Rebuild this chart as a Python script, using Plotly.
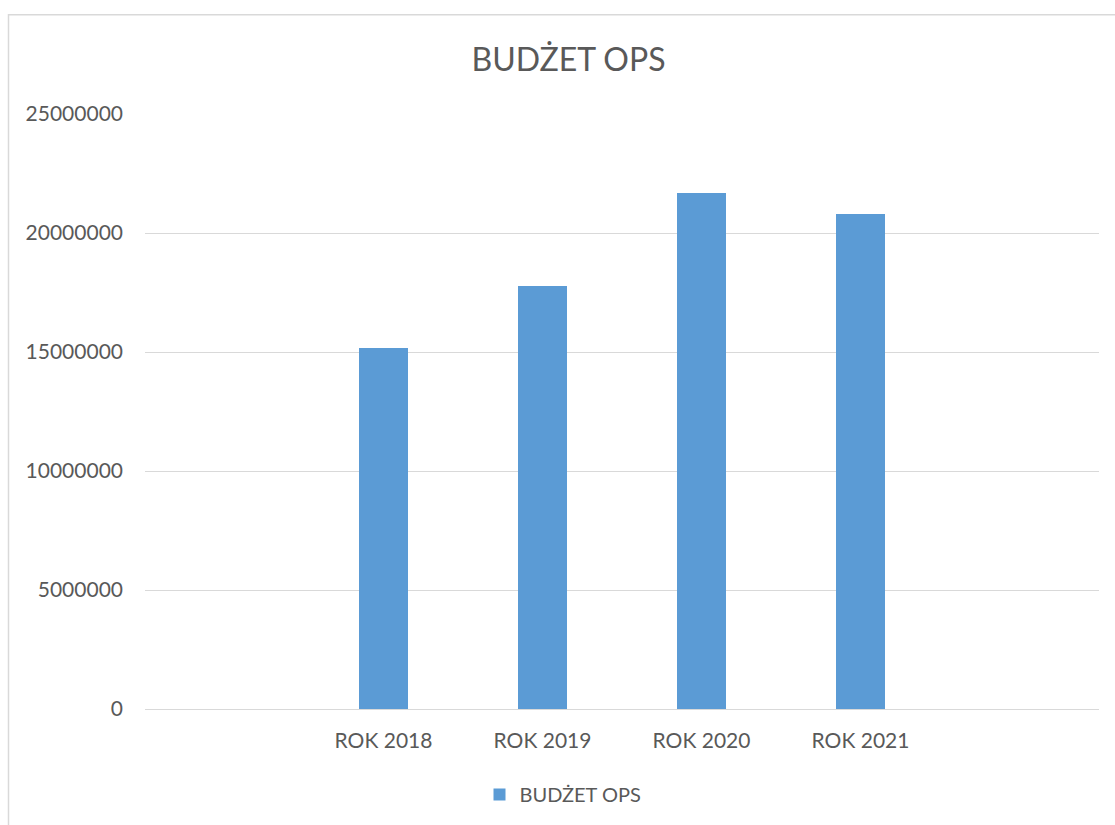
import plotly.graph_objects as go

# Budget of the social welfare centre (OPS) per year
categories = ["ROK 2018", "ROK 2019", "ROK 2020", "ROK 2021"]
budget = [15160000, 17760000, 21680000, 20800000]
y_ticks = [0, 5000000, 10000000, 15000000, 20000000, 25000000]

# Numeric positions: one empty slot on each side of the four years
positions = [1, 2, 3, 4]

W, H = 1115, 825
L, R, T, B = 145, 16, 114, 114.5
plot_w = W - L - R
plot_h = H - T - B

def px_x(px):
    return (px - L) / plot_w

def px_y(py):
    return (H - B - py) / plot_h

font_family = "Lato, 'Open Sans', sans-serif"
text_color = "#595959"
grid_color = "#d9d9d9"
bar_color = "#5b9bd5"

fig = go.Figure()
fig.add_trace(go.Bar(
    x=positions,
    y=budget,
    name="BUDŻET OPS",
    marker=dict(color=bar_color, line=dict(width=0)),
    width=0.314,
    showlegend=True,
))

fig.update_layout(
    width=W,
    height=H,
    margin=dict(l=L, r=R, t=T, b=B),
    paper_bgcolor="white",
    plot_bgcolor="white",
    font=dict(family=font_family, color=text_color, size=21),
    title=dict(
        text="BUDŻET OPS",
        font=dict(size=32, color=text_color, family=font_family),
        x=px_x(568.5), xref="paper", xanchor="center",
        y=1 - 60 / H, yref="container", yanchor="middle",
    ),
    xaxis=dict(
        range=[-0.5, 5.5],
        tickvals=positions,
        ticktext=categories,
        showgrid=False,
        zeroline=False,
        showline=False,
        ticks="",
        ticklabelstandoff=17,
        tickfont=dict(size=21, color=text_color),
        fixedrange=True,
    ),
    yaxis=dict(
        range=[0, 25000000],
        tickvals=y_ticks,
        ticktext=[str(v) for v in y_ticks],
        showgrid=True,
        gridcolor=grid_color,
        gridwidth=1,
        zeroline=True,
        zerolinecolor=grid_color,
        zerolinewidth=1,
        showline=False,
        ticks="",
        ticklabelstandoff=21,
        tickfont=dict(size=21, color=text_color),
        fixedrange=True,
    ),
    legend=dict(
        orientation="h",
        x=px_x(563), xanchor="center",
        y=px_y(795), yanchor="middle",
        font=dict(size=20, color=text_color),
        itemsizing="constant",
        bgcolor="rgba(0,0,0,0)",
    ),
    bargap=0,
)

# Chart area border
fig.add_shape(
    type="rect", xref="paper", yref="paper",
    x0=px_x(8.5), x1=px_x(1140), y0=px_y(14.5), y1=px_y(850),
    line=dict(color=grid_color, width=1.5),
    fillcolor="rgba(0,0,0,0)", layer="below",
)

fig.write_html("out.html")
